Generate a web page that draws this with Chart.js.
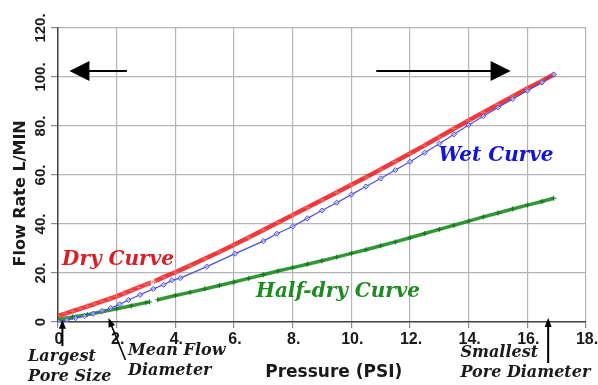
<!DOCTYPE html>
<html><head><meta charset="utf-8">
<script src="https://cdn.jsdelivr.net/npm/chart.js@4"></script>
<style>html,body{margin:0;padding:0;background:#fff}</style>
</head><body>
<canvas id="c" width="598" height="385" style="width:598px;height:385px;display:block"></canvas>
<script>
// ---- data (x = Pressure PSI, y = Flow Rate L/MIN) ----
const dryX = [0,0.25,0.5,0.75,1,1.25,1.5,1.75,2,2.25,2.5,2.75,3,3.15,3.22,3.3,3.6,4,4.5,5,5.5,6,6.5,7,7.5,8,8.5,9,9.5,10,10.5,11,11.5,12,12.5,13,13.5,14,14.5,15,15.5,16,16.5,16.9];
const dryY = [2.5,3.4,4.4,5.4,6.4,7.4,8.4,9.4,10.5,11.7,12.9,14.1,15.3,16.0,null,16.6,18.3,20.3,23.0,25.8,28.6,31.5,34.5,37.6,40.6,43.7,46.7,49.8,52.9,56.0,59.1,62.3,65.5,68.8,72.1,75.5,78.9,82.3,85.5,88.8,92.0,95.3,98.4,101.0];

const wetX = [0,0.3,0.6,0.9,1.2,1.5,1.8,2.1,2.4,2.8,3.25,3.6,3.88,4.17,5.07,6.04,7.0,7.46,8,8.5,9,9.5,10,10.5,11,11.5,12,12.5,13,13.5,14,14.5,15,15.5,16,16.5,16.9];
const wetY = [0.3,0.8,1.6,2.4,3.4,4.5,5.7,7.2,9.0,11.1,13.5,15.2,17.0,17.9,22.6,27.9,33.0,36.0,39.0,42.3,45.5,48.7,52.0,55.3,58.6,62.0,65.4,69.1,72.8,76.6,80.4,84.0,87.6,91.0,94.4,97.8,101.0];

const halfX = [0,0.5,1,1.5,2,2.5,3,3.12,3.25,3.4,4,4.5,5,5.5,6,6.5,7,7.5,8,8.5,9,9.5,10,10.5,11,11.5,12,12.5,13,13.5,14,14.5,15,15.5,16,16.5,16.9];
const halfY = [1.0,2.0,3.0,4.2,5.4,6.6,7.9,8.2,null,9.1,10.8,12.1,13.5,14.9,16.3,17.8,19.3,20.8,22.2,23.6,25.0,26.5,28.0,29.5,31.1,32.7,34.4,36.1,37.8,39.5,41.2,42.9,44.5,46.1,47.7,49.2,50.5];

const xTicks = [0,2,4,6,8,10,12,14,16,18];
const xTickLabels = ['0','2.','4.','6.','8.','10.','12.','14.','16.','18.'];
const yTicks = [0,20,40,60,80,100,120];
const yTickLabels = ['0','20.','40.','60.','80.','100.','120.'];

const xTitle = 'Pressure (PSI)';
const yTitle = 'Flow Rate L/MIN';
const curveNames = ['Dry Curve','Wet Curve','Half-dry Curve'];
const noteTexts = [['Largest','Pore Size'],['Mean Flow','Diameter'],['Smallest','Pore Diameter']];

// ---- styling / placement (not data) ----
const curveLabelPos = [{x:0.14,y:23.3,color:'#d81e26'},{x:12.97,y:65.8,color:'#1414d4'},{x:6.75,y:10.2,color:'#1d8a22'}];
const notePos = [{x:-1.02,dy:[39,59]},{x:2.39,dy:[33,53]},{x:13.72,dy:[34.5,54.5]}];

function pts(xs, ys){ return xs.map((x,i)=>({x:x, y:ys[i]})); }

function arrow(ctx,x1,y1,x2,y2,hl,hh,lw){
  const a=Math.atan2(y2-y1,x2-x1), c=Math.cos(a), s=Math.sin(a);
  const bx=x2-c*hl, by=y2-s*hl;
  ctx.lineWidth=lw; ctx.beginPath(); ctx.moveTo(x1,y1); ctx.lineTo(bx+c*2,by+s*2); ctx.stroke();
  ctx.beginPath(); ctx.moveTo(x2,y2); ctx.lineTo(bx-s*hh,by+c*hh); ctx.lineTo(bx+s*hh,by-c*hh); ctx.closePath(); ctx.fill();
}

const annot = {
  id:'annot',
  afterDraw(chart){
    const ctx=chart.ctx, X=chart.scales.x, Y=chart.scales.y, ca=chart.chartArea;
    ctx.save();
    ctx.fillStyle='#1a1a1a'; ctx.strokeStyle='#000';
    // y tick labels (rotated)
    ctx.font='bold 15px "Liberation Sans", Arial, sans-serif';
    ctx.textAlign='center'; ctx.textBaseline='middle';
    yTicks.forEach((v,i)=>{ ctx.save(); ctx.translate(ca.left-17, Y.getPixelForValue(v)); ctx.rotate(-Math.PI/2); ctx.fillText(yTickLabels[i],0,0); ctx.restore(); });
    // x tick labels
    ctx.font='bold 16px "Liberation Sans", Arial, sans-serif';
    ctx.textBaseline='alphabetic';
    xTicks.forEach((v,i)=>{ ctx.fillText(xTickLabels[i], X.getPixelForValue(v)+1, ca.bottom+22); });
    // axis titles
    ctx.font='bold 17px "DejaVu Sans", sans-serif';
    ctx.fillText(xTitle, X.getPixelForValue(9.4), ca.bottom+54.5);
    ctx.font='bold 16px "DejaVu Sans", sans-serif';
    ctx.save(); ctx.translate(21, Y.getPixelForValue(52.5)); ctx.rotate(-Math.PI/2); ctx.textBaseline='middle'; ctx.fillText(yTitle,0,0); ctx.restore();
    // curve labels
    ctx.textAlign='left'; ctx.textBaseline='alphabetic';
    ctx.font='italic bold 20px "DejaVu Serif", serif';
    curveNames.forEach((t,i)=>{ const p=curveLabelPos[i]; ctx.fillStyle=p.color; ctx.fillText(t, X.getPixelForValue(p.x), Y.getPixelForValue(p.y)); });
    // notes below axis
    ctx.fillStyle='#1a1a1a';
    ctx.font='italic bold 16px "DejaVu Serif", serif';
    noteTexts.forEach((lines,i)=>{ const p=notePos[i]; lines.forEach((t,j)=>ctx.fillText(t, X.getPixelForValue(p.x), ca.bottom+p.dy[j])); });
    // big arrows
    ctx.fillStyle='#000';
    const ay=Y.getPixelForValue(102.4);
    arrow(ctx, X.getPixelForValue(2.35), ay, X.getPixelForValue(0.39), ay, 20, 10, 2);
    arrow(ctx, X.getPixelForValue(10.85), ay, X.getPixelForValue(15.43), ay, 20, 10, 2);
    // small pointer arrows
    const t1x=X.getPixelForValue(0.15), t1y=Y.getPixelForValue(0.9);
    arrow(ctx, t1x, ca.bottom+24, t1x, t1y, 9, 3.5, 2);
    const t2x=X.getPixelForValue(1.72), t2y=Y.getPixelForValue(1.6);
    arrow(ctx, t2x+17, ca.bottom+38, t2x, t2y, 9, 3.5, 1.6);
    const t3x=X.getPixelForValue(16.71), t3y=Y.getPixelForValue(1.6);
    arrow(ctx, t3x, ca.bottom+41, t3x, t3y, 9, 3.5, 2);
    ctx.restore();
  }
};

new Chart(document.getElementById('c'), {
  type:'scatter',
  data:{ datasets:[
    { label:curveNames[1], data:pts(wetX,wetY), showLine:true, spanGaps:false,
      borderColor:'#4e4ed8', borderWidth:1.2, pointStyle:'rectRot', pointRadius:2.6,
      pointBorderColor:'#5050d0', pointBackgroundColor:'rgba(200,200,255,0.6)', pointBorderWidth:1 },
    { label:curveNames[2], data:pts(halfX,halfY), showLine:true, spanGaps:false,
      borderColor:'rgba(28,140,32,0.9)', borderWidth:3.5, pointStyle:'cross', pointRadius:2.5,
      pointBorderColor:'#17701e', pointBorderWidth:1 },
    { label:curveNames[0], data:pts(dryX,dryY), showLine:true, spanGaps:false,
      borderColor:'rgba(236,28,32,0.88)', borderWidth:4.5, pointStyle:'cross', pointRadius:3,
      pointBorderColor:'rgba(255,110,110,0.95)', pointBorderWidth:1 }
  ]},
  options:{
    responsive:false, animation:false, devicePixelRatio:1,
    layout:{ padding:{ top:28, right:12, left:0, bottom:0 } },
    plugins:{ legend:{display:false}, tooltip:{enabled:false} },
    scales:{
      x:{ type:'linear', min:0, max:18, afterFit:(s)=>{ s.height=63; },
          ticks:{ display:false, stepSize:2 },
          grid:{ color:'#b4b4b4', lineWidth:1.2, tickLength:6, tickColor:'#888' },
          border:{ color:'#444', width:1.5 } },
      y:{ type:'linear', min:0, max:120, afterFit:(s)=>{ s.width=58; },
          ticks:{ display:false, stepSize:20 },
          grid:{ color:'#b4b4b4', lineWidth:1.2, tickLength:7, tickColor:'#888' },
          border:{ color:'#444', width:1.5 } }
    }
  },
  plugins:[annot]
});
</script>
</body></html>
